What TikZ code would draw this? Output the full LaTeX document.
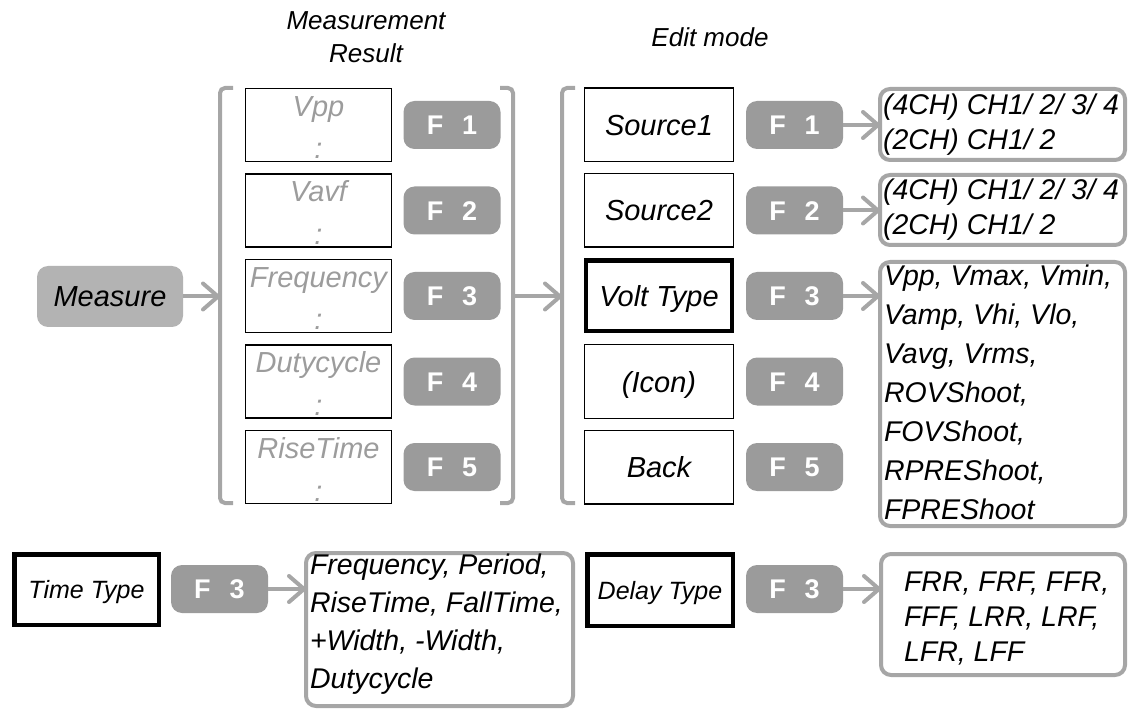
\documentclass[tikz,border=0pt]{standalone}
\usepackage{fontspec}
\setmainfont{Liberation Sans}
\usetikzlibrary{arrows.meta}
\definecolor{mfill}{HTML}{B3B3B3}
\definecolor{ffill}{HTML}{9B9B9B}
\definecolor{lgray}{HTML}{A6A6A6}
\definecolor{tgray}{HTML}{9C9C9C}
\begin{document}
\begin{tikzpicture}[x=1pt,y=-1pt,
  every node/.style={inner sep=0pt, outer sep=0pt},
  txt/.style={font=\fontsize{29}{35}\selectfont\itshape},
  smalltxt/.style={font=\fontsize{25}{30}\selectfont\itshape},
  hdr/.style={font=\fontsize{26}{33}\selectfont\itshape, align=center},
  resbox/.style={draw=black, line width=1.5pt, minimum width=146pt, minimum height=73pt},
  editbox/.style={draw=black, line width=1.5pt, minimum width=149pt, minimum height=73.5pt, txt, text height=21pt, text depth=0pt},
  selbox/.style={draw=black, line width=4.5pt, text height=18pt, text depth=0pt},
  fbtn/.style={fill=ffill, rounded corners=11pt, minimum width=97pt, minimum height=48pt, text=white, font=\fontsize{27}{27}\selectfont\bfseries, text height=19.5pt, text depth=0pt},
  mnode/.style={fill=mfill, rounded corners=11pt, minimum width=146pt, minimum height=61pt, txt, text height=21pt, text depth=0pt},
  optbox/.style={draw=lgray, line width=4pt, rounded corners=10pt, fill=white},
  opttext/.style={align=left, anchor=west},
  conn/.style={draw=lgray, line width=4pt, -{Straight Barb[length=15pt,width=26pt,round]}},
  brk/.style={draw=lgray, line width=4pt, rounded corners=5pt},
]
\useasboundingbox (0,0) rectangle (1130,711);

% headers
\node[hdr] (h1) at (366,37.5) {Measurement\\Result};
\node[hdr] (h2) at (710,37.5) {Edit mode};

% measure
\node[mnode] (measure) at (110,296.5) {Measure};

% brackets
\draw[brk] (233,88) -- (220,88) -- (220,503) -- (233,503);
\draw[brk] (500,88) -- (513,88) -- (513,503) -- (500,503);
\draw[brk] (575,88) -- (562,88) -- (562,503) -- (575,503);
\coordinate (b1) at (220,296.5);
\coordinate (b2) at (513,296.5);
\coordinate (b3) at (562,296.5);

% measurement result column
\foreach \i/\nm/\y in {1/Vpp/125, 2/Vavf/210.5, 3/Frequency/296, 4/Dutycycle/381.5, 5/RiseTime/467}{
  \node[resbox] (r\i) at (318.5,\y) {};
  \node[txt, text=tgray, anchor=base] (rn\i) at (318.5,\y-8.5) {\nm};
  \node[txt, text=tgray, anchor=base] (rc\i) at (318.5,\y+34) {:};
  \node[fbtn] (f\i) at (452,\y) {F\hspace{19pt}\i};
}

% edit mode column
\node[editbox] (e1) at (659,125) {Source1};
\node[editbox] (e2) at (659,210.5) {Source2};
\node[editbox, line width=4.5pt, minimum width=146pt, minimum height=70.5pt] (e3) at (659,296) {Volt Type};
\node[editbox] (e4) at (659,381.5) {(Icon)};
\node[editbox] (e5) at (659,467) {Back};
\foreach \i/\y in {1/125, 2/210.5, 3/296, 4/381.5, 5/467}{
  \node[fbtn] (g\i) at (794.5,\y) {F\hspace{19pt}\i};
}

% option boxes
\node[optbox, minimum width=245pt, minimum height=71pt] (o1) at (1002.5,124.5) {};
\node[optbox, minimum width=245pt, minimum height=70pt] (o2) at (1002.5,210) {};
\node[optbox, minimum width=245pt, minimum height=264pt] (o3) at (1002.5,394) {};
\node[opttext, font=\fontsize{28.5}{35}\selectfont\itshape] (t1) at (883,124.5) {(4CH) CH1/ 2/ 3/ 4\\(2CH) CH1/ 2};
\node[opttext, font=\fontsize{28.5}{35}\selectfont\itshape] (t2) at (883,210) {(4CH) CH1/ 2/ 3/ 4\\(2CH) CH1/ 2};
\node[opttext, font=\fontsize{28.5}{39}\selectfont\itshape] (t3) at (884,392) {Vpp, Vmax, Vmin,\\Vamp, Vhi, Vlo,\\Vavg, Vrms,\\ROVShoot,\\FOVShoot,\\RPREShoot,\\FPREShoot};

% bottom row
\node[selbox, smalltxt, minimum width=144.5pt, minimum height=70.5pt] (tt) at (86.5,589.5) {Time Type};
\node[fbtn] (fb1) at (219.5,589) {F\hspace{19pt}3};
\node[optbox, minimum width=267pt, minimum height=153pt] (ot) at (439.5,629.5) {};
\node[opttext, font=\fontsize{28.5}{38}\selectfont\itshape] (ott) at (310,624) {Frequency, Period,\\RiseTime, FallTime,\\+Width, -Width,\\Dutycycle};

\node[selbox, smalltxt, minimum width=145.5pt, minimum height=71.5pt] (dt) at (660,590) {Delay Type};
\node[fbtn] (fb2) at (794.5,589) {F\hspace{19pt}3};
\node[optbox, minimum width=244pt, minimum height=121pt] (od) at (1003,614.5) {};
\node[opttext, font=\fontsize{28.5}{35}\selectfont\itshape] (odt) at (904,619) {FRR, FRF, FFR,\\FFF, LRR, LRF,\\LFR, LFF};

% connectors
\draw[conn] (measure.east) -- (b1);
\draw[conn] (b2) -- (b3);
\draw[conn] (g1.east) -- (o1.west |- g1.east);
\draw[conn] (g2.east) -- (o2.west |- g2.east);
\draw[conn] (g3.east) -- (o3.west |- g3.east);
\draw[conn] (fb1.east) -- (ot.west |- fb1.east);
\draw[conn] (fb2.east) -- (od.west |- fb2.east);
\end{tikzpicture}
\end{document}
